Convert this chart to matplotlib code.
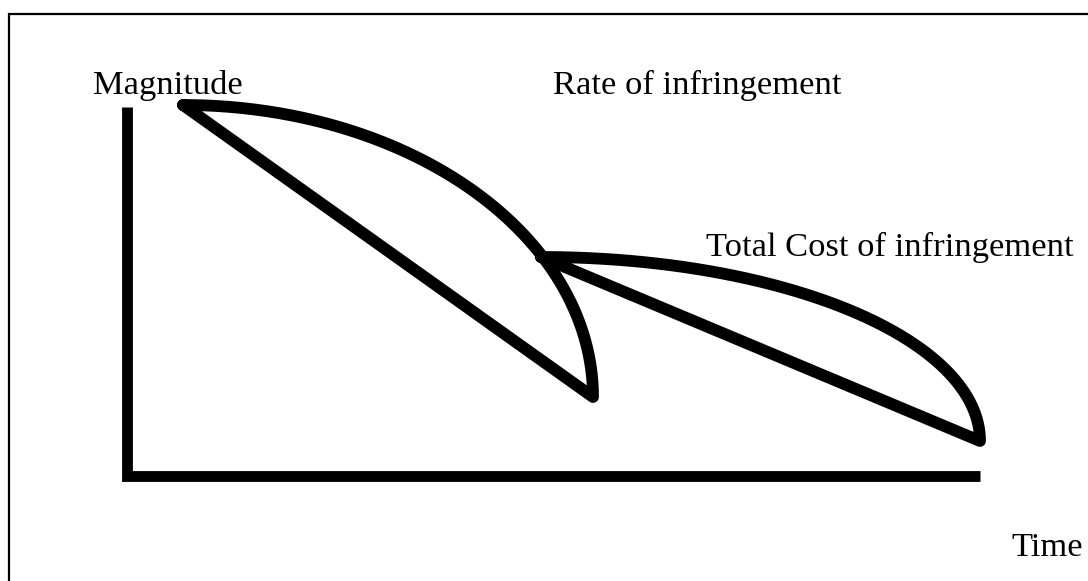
import numpy as np
import matplotlib.pyplot as plt

# diagram key points (pixel space, y grows downward)
axis_origin = (127, 476)
axis_top = 107
axis_right = 980

rate_start = (183, 105)   # start of "rate of infringement" lobe
rate_tip = (593, 397)
cost_start = (541, 257)   # start of "total cost" lobe
cost_tip = (980, 441)

labels = ['Magnitude', 'Rate of infringement', 'Total Cost of infringement', 'Time']
label_pos = [(93, 94), (553, 94), (706, 256), (1011, 556)]

LW_AXIS = 7.8
LW_CURVE = 8.5


def lobe(start, tip, n=200):
    # straight line from start down to tip, then quarter-ellipse back up to start
    cx, cy = start[0], tip[1]
    a = tip[0] - start[0]
    b = tip[1] - start[1]
    t = np.linspace(0, np.pi / 2, n)
    ex = cx + a * np.cos(t)
    ey = cy - b * np.sin(t)
    xs = np.concatenate([[start[0]], ex])
    ys = np.concatenate([[start[1]], ey])
    return xs, ys


fig = plt.figure(figsize=(10.88, 5.81), dpi=100)
ax = fig.add_axes([0, 0, 1, 1])
ax.set_xlim(0, 1088)
ax.set_ylim(581, 0)
ax.axis('off')

# outer frame (top and left edges visible)
ax.plot([9, 9, 1088], [581, 14, 14], color='black', lw=1.6, solid_joinstyle='miter')

# axes
ax.plot([axis_origin[0], axis_origin[0], axis_right],
        [axis_top, axis_origin[1], axis_origin[1]],
        color='black', lw=LW_AXIS, solid_joinstyle='miter', solid_capstyle='butt')

for start, tip in [(rate_start, rate_tip), (cost_start, cost_tip)]:
    xs, ys = lobe(start, tip)
    ax.plot(xs, ys, color='black', lw=LW_CURVE, solid_joinstyle='round', solid_capstyle='round')

for text, (x, y) in zip(labels, label_pos):
    ax.text(x, y, text, fontsize=24.8, family='Liberation Serif', ha='left', va='baseline')

fig.savefig('out.png', dpi=100)
